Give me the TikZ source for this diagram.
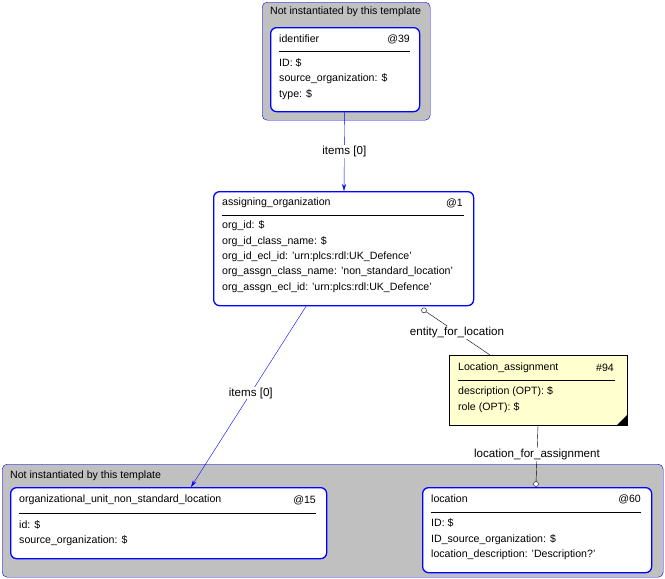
\documentclass[tikz,border=0pt]{standalone}
\usepackage{fontspec}
\setmainfont{Liberation Sans}
\usetikzlibrary{arrows.meta,calc}
\definecolor{grpgray}{RGB}{192,192,192}
\definecolor{notecol}{RGB}{255,255,208}
\tikzset{
  group/.style={draw=blue, fill=grpgray, rounded corners=5pt, anchor=north west, inner sep=0pt},
  box/.style={draw=blue, line width=1.3pt, fill=white, rounded corners=6pt, anchor=north west, inner sep=0pt},
  note/.style={draw=black, fill=notecol, anchor=north west, inner sep=0pt},
  txt/.style={anchor=west, inner sep=0pt, font=\fontsize{10.6}{12}\selectfont},
  rtxt/.style={anchor=east, inner sep=0pt, font=\fontsize{10.6}{12}\selectfont},
  lbl/.style={fill=white, inner sep=1pt, font=\fontsize{11.6}{13}\selectfont},
  link/.style={draw=blue, -{Stealth[length=7pt,width=4pt]}}
}
\begin{document}
\begin{tikzpicture}[x=1pt,y=-1pt]
\useasboundingbox (0,0) rectangle (665,579);
% groups
\node[group, minimum width=168pt, minimum height=118pt] (grptop) at (262,2) {};
\node[txt] at (270,12) {Not instantiated by this template};
\node[group, minimum width=661pt, minimum height=113pt] (grpbot) at (2,464) {};
\node[txt] at (10,476) {Not instantiated by this template};
% identifier
\node[box, minimum width=149pt, minimum height=84pt] (ident) at (270,27) {};
\node[txt] at (279,39) {identifier};
\node[rtxt] at (410,39) {@39};
\draw (279,51) -- (410,51);
\node[txt] at (279,63) {ID: \$};
\node[txt] at (279,79) {source\_organization: \$};
\node[txt] at (279,95) {type: \$};
% assigning_organization
\node[box, minimum width=260pt, minimum height=114pt] (assign) at (213,191) {};
\node[txt] at (222,203) {assigning\_organization};
\node[rtxt] at (463,203) {@1};
\draw (222,215) -- (464,215);
\node[txt] at (222,226) {org\_id: \$};
\node[txt] at (222,242) {org\_id\_class\_name: \$};
\node[txt] at (222,257) {org\_id\_ecl\_id: 'urn:plcs:rdl:UK\_Defence'};
\node[txt] at (222,272) {org\_assgn\_class\_name: 'non\_standard\_location'};
\node[txt] at (222,288) {org\_assgn\_ecl\_id: 'urn:plcs:rdl:UK\_Defence'};
% Location_assignment
\node[note, minimum width=178pt, minimum height=70pt] (locassgn) at (449,355) {};
\fill (627,425) -- (627,415) -- (617,425) -- cycle;
\node[txt] at (458,368) {Location\_assignment};
\node[rtxt] at (614,368) {\#94};
\draw (458,380) -- (615,380);
\node[txt] at (458,392) {description (OPT): \$};
\node[txt] at (458,408) {role (OPT): \$};
% organizational_unit
\node[box, minimum width=316pt, minimum height=71pt] (orgunit) at (10,487) {};
\node[txt] at (19,500) {organizational\_unit\_non\_standard\_location};
\node[rtxt] at (316,500) {@15};
\draw (19,513) -- (316,513);
\node[txt] at (19,525) {id: \$};
\node[txt] at (19,541) {source\_organization: \$};
% location
\node[box, minimum width=229pt, minimum height=85pt] (loc) at (422,487) {};
\node[txt] at (431,499) {location};
\node[rtxt] at (641,499) {@60};
\draw (431,512) -- (641,512);
\node[txt] at (431,523) {ID: \$};
\node[txt] at (431,540) {ID\_source\_organization: \$};
\node[txt] at (431,555) {location\_description: 'Description?'};
% connectors
\coordinate (itop) at ($(ident.south)+(-0.5,0)$);
\coordinate (ibot) at ($(assign.north west)+(131,0)$);
\draw[link] (itop) -- node[lbl] {items [0]} (ibot);
\draw[link] ($(assign.south west)+(93,0)$) -- node[lbl, pos=0.48] {items [0]} ($(orgunit.north west)+(181,0)$);
\coordinate (eloc) at ($(assign.south west)+(211,4)$);
\draw (eloc) -- node[lbl] {entity\_for\_location} ($(locassgn.north west)+(41,0)$);
\draw[fill=white] (eloc) circle (2.5pt);
\coordinate (lfa) at ($(loc.north west)+(114,-3)$);
\draw ($(locassgn.south west)+(89,0)$) -- node[lbl] {location\_for\_assignment} (lfa);
\draw[fill=white] (lfa) circle (2.5pt);
\end{tikzpicture}
\end{document}
